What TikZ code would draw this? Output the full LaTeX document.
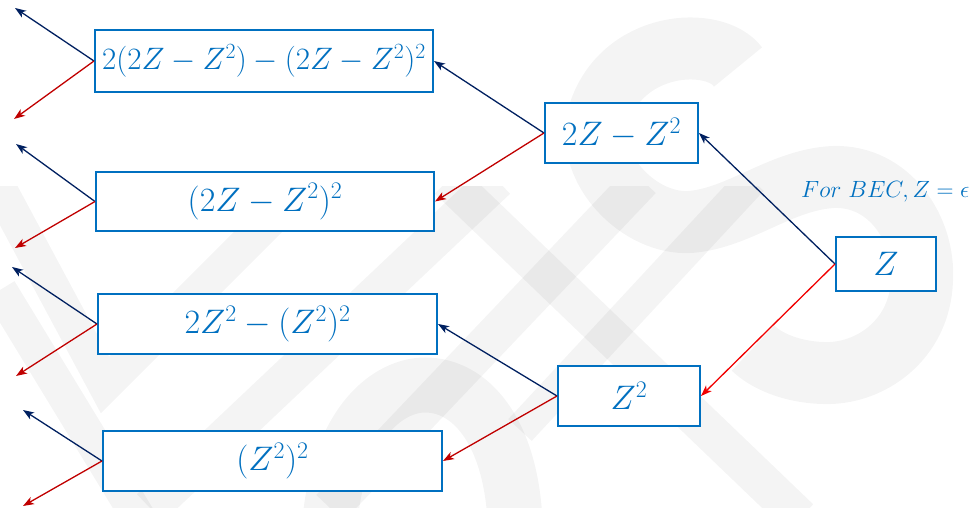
\RequirePackage{fix-cm}
\documentclass[tikz,border=0pt]{standalone}
\usetikzlibrary{arrows.meta}
\definecolor{boxblue}{HTML}{0070C0}
\definecolor{navy}{HTML}{002060}
\definecolor{dred}{HTML}{C00000}
\definecolor{bred}{HTML}{F00000}
\begin{document}
\begin{tikzpicture}[x=1pt,y=-1pt,
  box/.style={draw=boxblue, line width=2pt, fill=white, text=boxblue, inner sep=0pt,
    font=\fontsize{34}{40}\selectfont},
  tip/.style={-{Stealth[length=11pt,width=8pt,inset=3pt]}},
  upline/.style={draw=navy, line width=1.3pt, tip},
  dnline/.style={draw=dred, line width=1.3pt, tip},
  dnbright/.style={draw=bred, line width=1.3pt, tip},
  wmband/.style={draw=black, draw opacity=0.045, line width=38pt},
  wmcurve/.style={draw=black, draw opacity=0.045, line width=62pt},
  note/.style={text=boxblue, inner sep=0pt, font=\fontsize{23.5}{28}\selectfont}
]
\useasboundingbox (0,0) rectangle (978,508);

% faint watermark
\begin{scope}
  \clip (0,187) rectangle (978,508);
  \draw[wmband] (448,180) -- (800,518);
  \draw[wmband] (497,180) -- (150,508);
  \draw[wmband] (642,180) -- (330,508);
  \draw[wmband, line width=32pt] (752,180) -- (520,430);
  \draw[wmband, line width=34pt] (-5,180) -- (105,385) -- (320,170);
  \draw[wmband, line width=34pt] (0,290) -- (140,520);
\end{scope}
\draw[wmcurve, line width=55pt] (330,520) .. controls (340,420) and (390,385) .. (425,385)
  .. controls (470,385) and (510,430) .. (515,520);
\draw[wmcurve] (738,67) .. controls (715,35) and (620,40) .. (598,117)
  .. controls (585,170) and (640,225) .. (690,222)
  .. controls (740,218) and (780,180) .. (833,177)
  .. controls (890,175) and (925,230) .. (922,280)
  .. controls (920,340) and (870,375) .. (823,373)
  .. controls (790,372) and (765,360) .. (753,348);

% nodes
\node[box, minimum width=338pt, minimum height=62pt, font=\fontsize{31}{38}\selectfont]
  (b1) at (264,61) {$2(2Z-Z^2)-(2Z-Z^2)^2$};
\node[box, minimum width=338pt, minimum height=59pt] (b2) at (265,201.5) {$(2Z-Z^2)^2$};
\node[box, minimum width=339pt, minimum height=60pt] (b3) at (267.5,324) {$2Z^2-(Z^2)^2$};
\node[box, minimum width=339pt, minimum height=60pt] (b4) at (272.5,461) {$(Z^2)^2$};
\node[box, minimum width=153pt, minimum height=60pt] (c1) at (621.5,133) {$2Z-Z^2$};
\node[box, minimum width=142pt, minimum height=60pt] (c2) at (629,396) {$Z^2$};
\node[box, minimum width=100pt, minimum height=54pt] (z) at (886,264) {$Z$};
\node[note, anchor=base west] (bec) at (801,197) {$For\ BEC, Z=\epsilon$};

% free ends
\coordinate (e1u) at (15,8);
\coordinate (e1d) at (14,119);
\coordinate (e2u) at (16,144);
\coordinate (e2d) at (15,248);
\coordinate (e3u) at (12,267);
\coordinate (e3d) at (16,376);
\coordinate (e4u) at (23,410);
\coordinate (e4d) at (23,506);

% connectors
\draw[upline] (z.west) -- (c1.east);
\draw[dnbright] (z.west) -- (c2.east);
\draw[upline] (c1.west) -- (b1.east);
\draw[dnline] (c1.west) -- (b2.east);
\draw[upline] (c2.west) -- (b3.east);
\draw[dnline] (c2.west) -- (b4.east);
\draw[upline] (b1.west) -- (e1u);
\draw[dnline] (b1.west) -- (e1d);
\draw[upline] (b2.west) -- (e2u);
\draw[dnline] (b2.west) -- (e2d);
\draw[upline] (b3.west) -- (e3u);
\draw[dnline] (b3.west) -- (e3d);
\draw[upline] (b4.west) -- (e4u);
\draw[dnline] (b4.west) -- (e4d);
\end{tikzpicture}
\end{document}
